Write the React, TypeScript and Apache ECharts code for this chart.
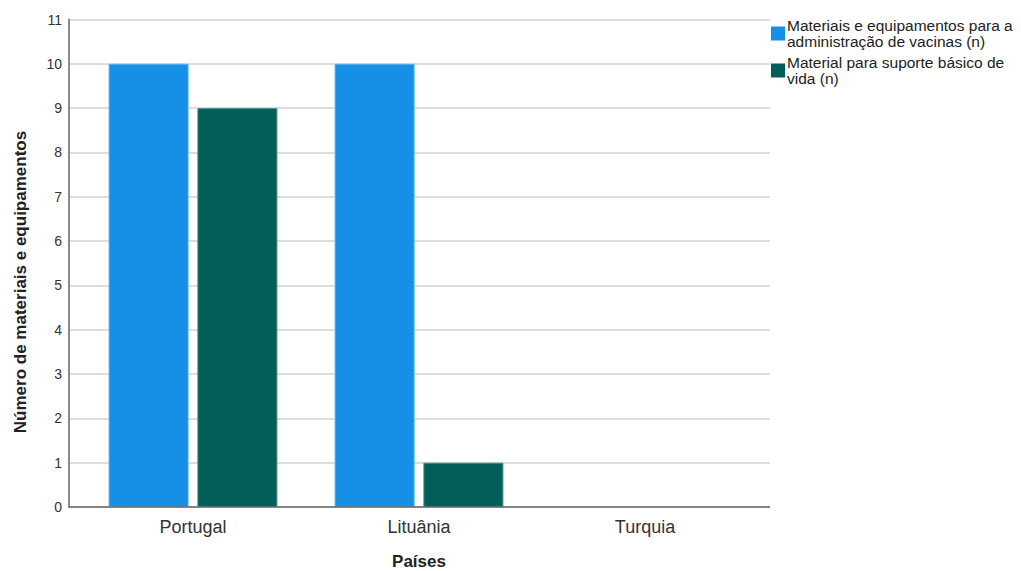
import React, { useEffect, useRef } from "react";
import * as echarts from "echarts";

const categories = ["Portugal", "Lituânia", "Turquia"];
const seriesNames = [
  "Materiais e equipamentos para a\nadministração de vacinas (n)",
  "Material para suporte básico de\nvida (n)",
];
const vacinas = [10, 10, 0];
const suporteVida = [9, 1, 0];
const yTicks = [0, 1, 2, 3, 4, 5, 6, 7, 8, 9, 10, 11];

const FONT = "'Liberation Sans', Arial, sans-serif";

// zero-height bars get no outline so nothing shows on the baseline
const toBarData = (values: number[], border: string) =>
  values.map((v) => ({
    value: v,
    itemStyle: v === 0 ? { borderWidth: 0 } : { borderColor: border, borderWidth: 1 },
  }));

export default function App() {
  const ref = useRef<HTMLDivElement>(null);

  useEffect(() => {
    if (!ref.current) return;
    const chart = echarts.init(ref.current, null, { renderer: "svg" });
    const yMax = yTicks[yTicks.length - 1];
    chart.setOption({
      animation: false,
      backgroundColor: "#ffffff",
      textStyle: { fontFamily: FONT },
      grid: [
        { left: 69, right: 251, top: 19.5, bottom: 64, outerBoundsMode: "none" },
        { left: 80, right: 263, top: 19.5, bottom: 64, outerBoundsMode: "none" },
      ],
      legend: {
        orient: "vertical",
        left: 766,
        top: 12,
        itemWidth: 14,
        itemHeight: 14,
        itemGap: 4,
        icon: "rect",
        textStyle: { fontFamily: FONT, fontSize: 15.5, color: "#222", lineHeight: 16.5, padding: [0, 0, 0, -3] },
        data: seriesNames,
      },
      xAxis: [
        {
          gridIndex: 0,
          type: "value",
          min: 0,
          max: 1,
          axisLine: { show: false },
          axisTick: { show: false },
          axisLabel: { show: false },
          splitLine: { show: false },
        },
        {
          gridIndex: 1,
          type: "category",
          data: categories,
          axisLine: { show: false },
          axisTick: { show: false },
          axisLabel: { fontSize: 18, color: "#333", margin: 11, fontFamily: FONT },
        },
      ],
      yAxis: [
        {
          gridIndex: 0,
          type: "value",
          min: 0,
          max: yMax,
          interval: 1,
          axisLine: { show: true, lineStyle: { color: "#8a8a8a", width: 2 } },
          axisTick: { show: false },
          axisLabel: { fontSize: 14, color: "#333", margin: 7, fontFamily: FONT },
          splitLine: { show: true, lineStyle: { color: "#d2d2d2", width: 1.5 } },
        },
        {
          gridIndex: 1,
          type: "value",
          min: 0,
          max: yMax,
          interval: 1,
          show: false,
          splitLine: { show: false },
        },
      ],
      graphic: [
        {
          type: "line",
          shape: { x1: 69, y1: 507, x2: 770, y2: 507 },
          style: { stroke: "#666", lineWidth: 1.5 },
          z: 100,
        },
        {
          type: "text",
          x: 20,
          y: 282,
          rotation: Math.PI / 2,
          style: {
            text: "Número de materiais e equipamentos",
            font: `bold 17px ${FONT}`,
            fill: "#222",
            align: "center",
            verticalAlign: "middle",
          },
        },
        {
          type: "text",
          x: 419,
          y: 561,
          style: {
            text: "Países",
            font: `bold 17px ${FONT}`,
            fill: "#222",
            align: "center",
            verticalAlign: "middle",
          },
        },
      ],
      series: [
        {
          name: seriesNames[0],
          type: "bar",
          xAxisIndex: 1,
          yAxisIndex: 1,
          data: toBarData(vacinas, "#5ab0ee"),
          barWidth: 80,
          barGap: "11%",
          itemStyle: { color: "#1590e6" },
        },
        {
          name: seriesNames[1],
          type: "bar",
          xAxisIndex: 1,
          yAxisIndex: 1,
          data: toBarData(suporteVida, "#3f8a85"),
          barWidth: 80,
          barGap: "11%",
          itemStyle: { color: "#035e5a" },
        },
      ],
    });
    return () => chart.dispose();
  }, []);

  return (
    <div
      ref={ref}
      style={{ position: "absolute", left: 0, top: 0, width: 1021, height: 571 }}
    />
  );
}
